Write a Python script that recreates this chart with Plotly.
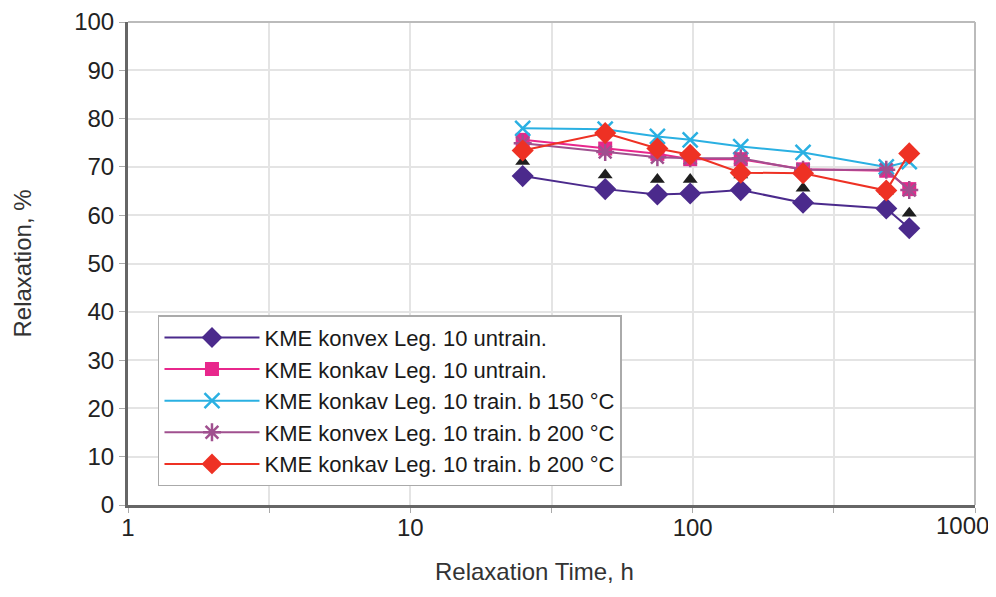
import plotly.graph_objects as go

time_h = [25, 49, 75, 98, 148, 246, 485, 585]

konvex_untrain = [68.1, 65.4, 64.3, 64.5, 65.2, 62.6, 61.4, 57.3]
konkav_untrain = [75.6, 73.8, 72.7, 71.6, 71.6, 69.5, 69.2, 65.4]
konkav_train150 = [78.0, 77.8, 76.3, 75.6, 74.2, 73.0, 70.0, 71.1]
konvex_train200 = [74.9, 73.1, 72.0, 71.8, 71.8, 69.4, 69.4, 65.2]
konkav_train200 = [73.4, 77.0, 73.8, 72.5, 68.8, 68.7, 65.1, 72.8]
extra_points = [71.1, 68.3, 67.4, 67.4, 68.3, 65.6, 64.9, 60.4]

names = [
    "KME konvex Leg. 10 untrain.",
    "KME konkav Leg. 10 untrain.",
    "KME konkav Leg. 10 train. b 150 °C",
    "KME konvex Leg. 10 train. b 200 °C",
    "KME konkav Leg. 10 train. b 200 °C",
]
colors = ["#4B2A8C", "#E8278C", "#2AB0E2", "#A0508F", "#EE3124"]
symbols = ["diamond", "square", "x-thin-open", "asterisk-open", "diamond"]
sizes = [17, 14, 15, 15, 17]
series = [konvex_untrain, konkav_untrain, konkav_train150, konvex_train200, konkav_train200]

x_tickvals = [1, 3.1623, 10, 31.623, 100, 316.23, 1000]
x_ticktext = ["1", "", "10", "", "100", "", "1000"]

fig = go.Figure()

fig.add_trace(go.Scatter(
    x=time_h, y=extra_points, mode="markers", showlegend=False,
    marker=dict(symbol="triangle-up", color="#1e1e1e", size=13),
))

for name, ys, c, s, sz in zip(names, series, colors, symbols, sizes):
    if s in ("x-thin-open", "asterisk-open"):
        marker = dict(symbol=s, color=c, size=sz, line=dict(color=c, width=2.5))
    else:
        marker = dict(symbol=s, color=c, size=sz)
    fig.add_trace(go.Scatter(
        x=time_h, y=ys, mode="lines+markers", name=name,
        line=dict(color=c, width=2), marker=marker,
    ))

# Last tick label placed so it stays inside the page, as in the reference
shown_ticktext = x_ticktext[:-1] + [""]

fig.update_layout(
    width=980, height=581,
    margin=dict(l=120, r=13, t=14, b=84),
    paper_bgcolor="white", plot_bgcolor="white",
    font=dict(family="Liberation Sans, Arial, sans-serif", color="#222222"),
    legend=dict(
        x=0.0354, y=0.393, xanchor="left", yanchor="top",
        bgcolor="white", bordercolor="#AAAAAA", borderwidth=1.5,
        font=dict(size=22, color="#1a1a1a"), tracegroupgap=0,
        itemwidth=95,
    ),
    xaxis=dict(
        type="log", range=[0, 3],
        tickvals=x_tickvals, ticktext=shown_ticktext,
        showgrid=True, gridcolor="#E4E4E4", gridwidth=1.5,
        showline=True, linecolor="#666666", linewidth=3,
        ticks="outside", ticklen=5, tickcolor="#AAAAAA",
        tickfont=dict(size=24, color="#222222"),
        ticklabelstandoff=-6,
        automargin=False, zeroline=False, ticklabeloverflow="allow",
    ),
    yaxis=dict(
        range=[0, 100], dtick=10,
        showgrid=True, gridcolor="#E4E4E4", gridwidth=1.5,
        showline=True, linecolor="#666666", linewidth=3,
        ticks="outside", ticklen=6, tickcolor="#AAAAAA",
        tickfont=dict(size=24, color="#222222"),
        automargin=False, zeroline=False, ticklabeloverflow="allow",
    ),
    shapes=[
        dict(type="line", xref="paper", yref="paper", x0=0, x1=1, y0=1, y1=1,
             line=dict(color="#BBBBBB", width=2)),
        dict(type="line", xref="paper", yref="paper", x0=1, x1=1, y0=0, y1=1,
             line=dict(color="#BBBBBB", width=2)),
    ],
    annotations=[
        dict(text=x_ticktext[-1], xref="x", yref="paper", x=3, y=0,
             xanchor="right", yanchor="top", xshift=16, yshift=-5,
             showarrow=False, font=dict(size=24, color="#222222")),
        dict(text="Relaxation Time, h", xref="paper", yref="paper", x=0.5, y=0,
             xanchor="center", yanchor="middle", xshift=-17, yshift=-66,
             showarrow=False, font=dict(size=24, color="#333333")),
        dict(text="Relaxation, %", xref="paper", yref="paper", x=0, y=0.5,
             xanchor="center", yanchor="middle", xshift=-106, textangle=-90,
             showarrow=False, font=dict(size=24, color="#333333")),
    ],
)

fig.write_html("out.html")
